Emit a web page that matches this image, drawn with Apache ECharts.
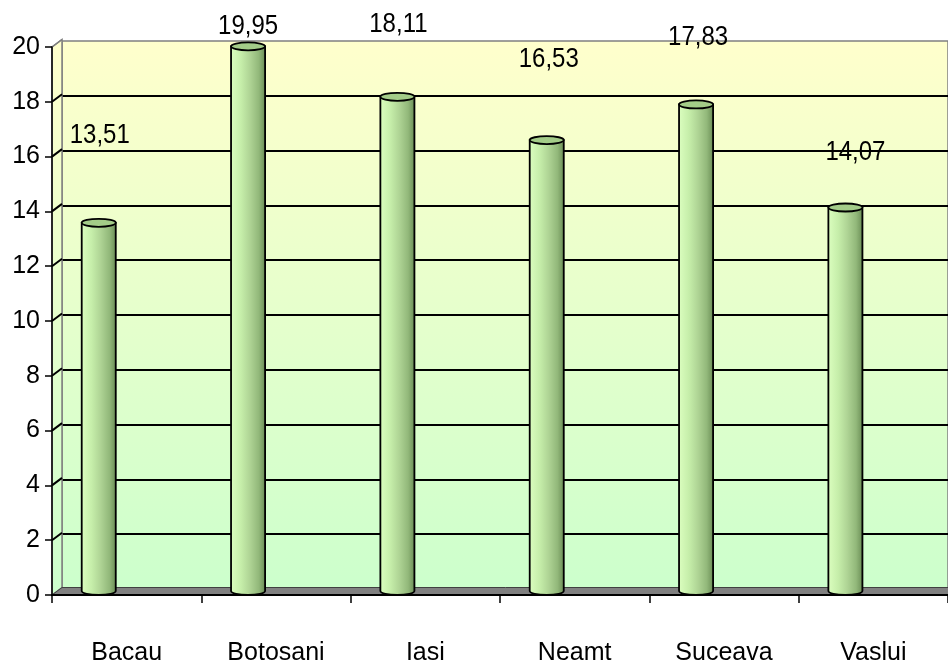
<!DOCTYPE html>
<html>
<head>
<meta charset="utf-8">
<script src="https://cdn.jsdelivr.net/npm/echarts@6/dist/echarts.min.js"></script>
<style>
html,body{margin:0;padding:0;background:#fff;}
#chart{width:948px;height:666px;}
</style>
</head>
<body>
<div id="chart"></div>
<script>
// ---- data ----
const categories = ['Bacau', 'Botosani', 'Iasi', 'Neamt', 'Suceava', 'Vaslui'];
const values = [13.51, 19.95, 18.11, 16.53, 17.83, 14.07];
const valueLabels = ['13,51', '19,95', '18,11', '16,53', '17,83', '14,07'];
const yTicks = [0, 2, 4, 6, 8, 10, 12, 14, 16, 18, 20];

// ---- layout / style (not data) ----
const FONT = "'Liberation Sans', Arial, sans-serif";
const labelNudge = [[1, -87], [0, -20], [1, -72], [2, -81], [2, -67], [10, -55]];
const DEPTH_X = 10, DEPTH_Y = -7.5;

const chart = echarts.init(document.getElementById('chart'), null, {renderer: 'canvas'});

const wallGradient = new echarts.graphic.LinearGradient(0, 0, 0, 1, [
  {offset: 0, color: '#FFFFCC'},
  {offset: 1, color: '#CCFFCC'}
]);
const barGradient = new echarts.graphic.LinearGradient(0, 0, 1, 0, [
  {offset: 0, color: '#dcffc0'},
  {offset: 0.3, color: '#c6eeaa'},
  {offset: 0.55, color: '#afd495'},
  {offset: 0.8, color: '#92b87a'},
  {offset: 0.92, color: '#789c62'},
  {offset: 1, color: '#587848'}
]);

function renderBar(params, api) {
  const i = api.value(0);
  const v = api.value(1);
  const top = api.coord([i, v]);
  const base = api.coord([i, 0]);
  const band = api.size([1, 0])[0];
  const cx = top[0] - band * 0.187;
  const rx = band * 0.114;
  const ry = 4;
  const yTop = top[1] - 2;
  const yBot = base[1] - 4;
  const body = 'M' + (cx - rx) + ',' + yTop + ' L' + (cx - rx) + ',' + yBot +
    ' A' + rx + ',' + ry + ' 0 0 0 ' + (cx + rx) + ',' + yBot +
    ' L' + (cx + rx) + ',' + yTop + ' Z';
  const cap = 'M' + (cx - rx) + ',' + yTop +
    ' A' + rx + ',' + ry + ' 0 1 0 ' + (cx + rx) + ',' + yTop +
    ' A' + rx + ',' + ry + ' 0 1 0 ' + (cx - rx) + ',' + yTop + ' Z';
  const n = labelNudge[params.dataIndex];
  return {
    type: 'group',
    children: [
      {type: 'path', shape: {pathData: body}, style: {fill: barGradient, stroke: '#000', lineWidth: 1.8}},
      {type: 'path', shape: {pathData: cap}, style: {fill: '#a3cc88', stroke: '#000', lineWidth: 1.8}},
      {type: 'text', z2: 10, x: cx + n[0], y: yTop + n[1], scaleX: 1, scaleY: 1.15,
       style: {
        x: 0, y: 0, text: valueLabels[params.dataIndex],
        font: '24px ' + FONT, fill: '#000', align: 'center', verticalAlign: 'middle'
      }}
    ]
  };
}

function renderWalls(params, api) {
  const rect = params.coordSys;
  const children = [];
  const left = rect.x, right = rect.x + rect.width;
  const y0 = api.coord([0, 0])[1];
  const yMax = api.coord([0, yTicks[yTicks.length - 1]])[1];
  // left wall
  children.push({type: 'polygon', shape: {points: [
    [left, yMax], [left + DEPTH_X, yMax + DEPTH_Y], [left + DEPTH_X, y0 + DEPTH_Y], [left, y0]
  ]}, style: {fill: wallGradient, stroke: '#808080', lineWidth: 1.5}});
  // floor
  children.push({type: 'polygon', shape: {points: [
    [left, y0], [left + DEPTH_X, y0 + DEPTH_Y], [right + 20, y0 + DEPTH_Y], [right + 20, y0]
  ]}, style: {fill: '#808080', stroke: '#404040', lineWidth: 1}});
  // slanted grid segments on the left wall
  yTicks.forEach(function (t, k) {
    const y = api.coord([0, t])[1];
    const last = k === yTicks.length - 1;
    if (t === 0) return;
    children.push({type: 'line', shape: {x1: left, y1: y, x2: left + DEPTH_X, y2: y + DEPTH_Y},
      style: {stroke: last ? '#808080' : '#000', lineWidth: last ? 1.5 : 2}});
  });
  return {type: 'group', children: children};
}

const option = {
  animation: false,
  backgroundColor: '#fff',
  grid: [
    {left: 52, right: 0, top: 47, bottom: 69, containLabel: false},
    {left: 62, right: -2, top: 41, bottom: 77, show: true, backgroundColor: wallGradient,
     borderColor: '#808080', borderWidth: 1.5, z: -1}
  ],
  xAxis: [
    {type: 'category', gridIndex: 0, data: categories, boundaryGap: true, z: 5,
     axisLine: {show: true, lineStyle: {color: '#000', width: 2}},
     axisTick: {show: true, length: 8, interval: 0, alignWithLabel: false, lineStyle: {color: '#000', width: 1.5}},
     axisLabel: {interval: 0, margin: 46, fontSize: 25, color: '#000', fontFamily: FONT},
     splitLine: {show: false}},
    {type: 'category', gridIndex: 1, data: categories, show: false}
  ],
  yAxis: [
    {type: 'value', gridIndex: 0, min: 0, max: 20, interval: 2, z: 5,
     axisLine: {show: true, lineStyle: {color: '#000', width: 1.5}},
     axisTick: {show: true, length: 7, lineStyle: {color: '#000', width: 1.5}},
     axisLabel: {margin: 12, fontSize: 25, color: '#000', fontFamily: FONT},
     splitLine: {show: false}},
    {type: 'value', gridIndex: 1, min: 0, max: 20, interval: 2,
     axisLine: {show: false}, axisTick: {show: false}, axisLabel: {show: false},
     splitLine: {show: true, showMaxLine: false, showMinLine: false, lineStyle: {color: '#000', width: 2}}}
  ],
  series: [
    {type: 'custom', xAxisIndex: 0, yAxisIndex: 0, z: 1, silent: true,
     renderItem: renderWalls, data: [[0, 0]], clip: false},
    {type: 'custom', xAxisIndex: 0, yAxisIndex: 0, z: 3, silent: true,
     renderItem: renderBar, clip: false,
     data: values.map(function (v, i) { return [i, v]; })}
  ]
};
chart.setOption(option);
</script>
</body>
</html>
